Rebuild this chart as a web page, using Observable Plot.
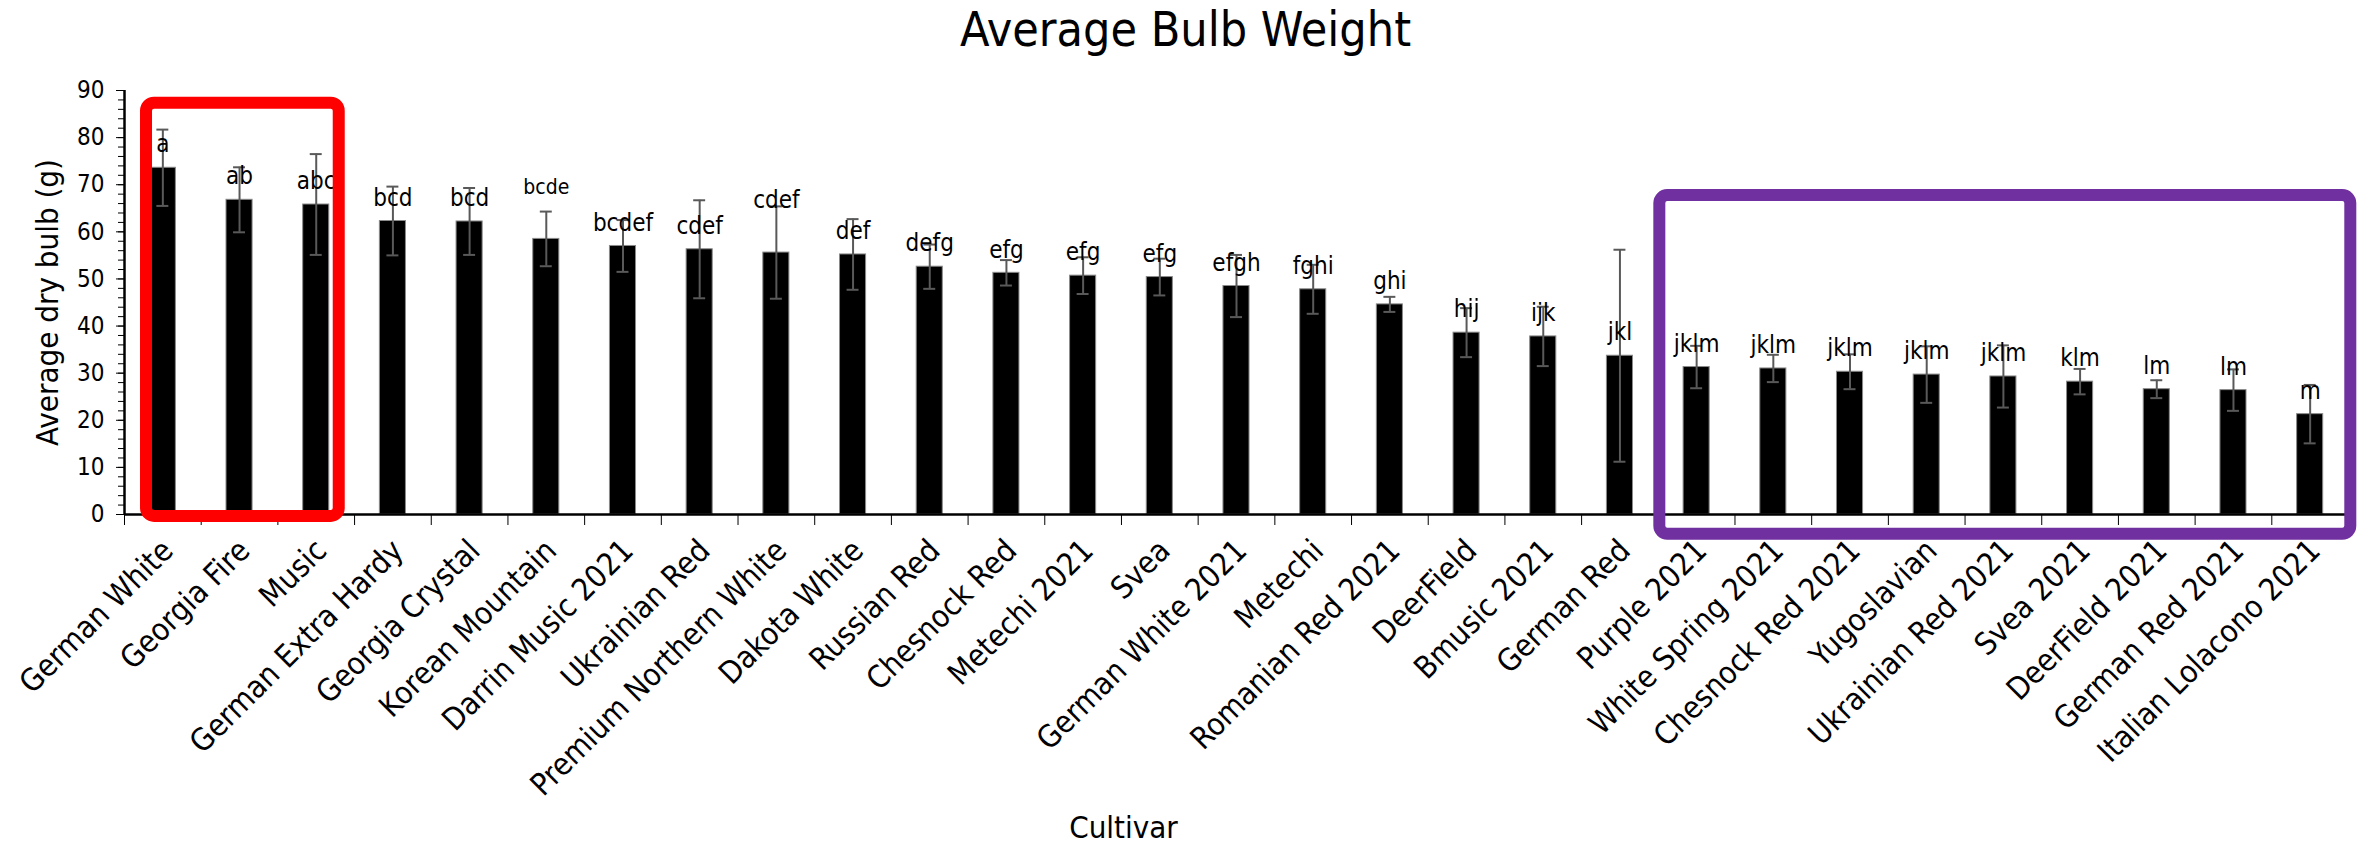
<!DOCTYPE html>
<html>
<head>
<meta charset="utf-8">
<script src="https://cdn.jsdelivr.net/npm/d3@7"></script>
<script src="https://cdn.jsdelivr.net/npm/@observablehq/plot@0.6"></script>
<style>
  html, body { margin: 0; padding: 0; background: #fff; }
  #chart svg { display: block; }
</style>
</head>
<body>
<div id="chart"></div>
<script>
// Cultivars, in ranked order of mean dry bulb weight
const cultivars = [
  "German White", "Georgia Fire", "Music", "German Extra Hardy", "Georgia Crystal",
  "Korean Mountain", "Darrin Music 2021", "Ukrainian Red", "Premium Northern White",
  "Dakota White", "Russian Red", "Chesnock Red", "Metechi 2021", "Svea",
  "German White 2021", "Metechi", "Romanian Red 2021", "DeerField", "Bmusic 2021",
  "German Red", "Purple 2021", "White Spring 2021", "Chesnock Red 2021", "Yugoslavian",
  "Ukrainian Red 2021", "Svea 2021", "DeerField 2021", "German Red 2021",
  "Italian Lolacono 2021"
];

// Average dry bulb weight (g)
const meanWeight = [
  73.6, 66.8, 65.8, 62.3, 62.2, 58.5, 57.0, 56.3, 55.6, 55.2,
  52.6, 51.3, 50.7, 50.4, 48.5, 47.8, 44.6, 38.6, 37.8, 33.7,
  31.3, 31.0, 30.3, 29.7, 29.3, 28.2, 26.6, 26.4, 21.3
];

// Error (± g)
const errorWeight = [
  8.1, 6.9, 10.7, 7.3, 7.1, 5.8, 5.5, 10.4, 9.8, 7.5,
  4.7, 2.7, 3.9, 3.9, 6.6, 5.2, 1.6, 5.2, 6.3, 22.5,
  4.5, 2.9, 3.7, 6.0, 6.6, 2.7, 1.9, 4.4, 6.2
];

// Mean-separation letters
const letters = [
  "a", "ab", "abc", "bcd", "bcd", "bcde", "bcdef", "cdef", "cdef", "def",
  "defg", "efg", "efg", "efg", "efgh", "fghi", "ghi", "hij", "ijk", "jkl",
  "jklm", "jklm", "jklm", "jklm", "jklm", "klm", "lm", "lm", "m"
];

// Highlight boxes: first and last cultivar of each group, and the box's vertical extent (g)
const groupFirst = ["German White", "Purple 2021"];
const groupLast = ["Music", "Italian Lolacono 2021"];
const groupTop = [87.3, 67.7];
const groupBottom = [-0.4, -4.2];
const groupColor = ["#ff0000", "#7030a0"];

const yTicks = [0, 10, 20, 30, 40, 50, 60, 70, 80, 90];

// ---- layout / styling ----
const W = 2362, H = 846;
const ML = 124, MR = 14, MT = 90, MB = 332;
const FONT = "'DejaVu Sans Condensed', 'DejaVu Sans', Verdana, sans-serif";
const BAR_HALF = 0.17;      // half bar width, in category units
const CAP_HALF = 0.078;     // half error-cap width, in category units
const raised = new Set(["Korean Mountain", "Premium Northern White"]);
const smallLetter = { "Korean Mountain": 21 };

const rows = cultivars.map((c, i) => ({
  c, i, mid: i + 0.5,
  mean: meanWeight[i], err: errorWeight[i], letter: letters[i]
}));

const groups = groupFirst.map((f, k) => ({
  x1: cultivars.indexOf(f) + (k === 0 ? 0.287 : 0.02),
  x2: cultivars.indexOf(groupLast[k]) + (k === 0 ? 0.8 : 1.03),
  y1: groupBottom[k], y2: groupTop[k], color: groupColor[k]
}));

const n = cultivars.length;
const letterSize = d => smallLetter[d.c] || 24;

const plot = Plot.plot({
  width: W, height: H,
  marginLeft: ML, marginRight: MR, marginTop: MT, marginBottom: MB,
  style: { fontFamily: FONT, color: "#000", background: "#fff", overflow: "visible" },
  x: { type: "linear", domain: [0, n], axis: null },
  y: { domain: [0, 90], axis: null },
  marks: [
    // bars
    Plot.rectY(rows, {
      x1: d => d.mid - BAR_HALF, x2: d => d.mid + BAR_HALF, y1: 0, y2: "mean",
      fill: "#000", stroke: "#8a8a8a", strokeWidth: 1
    }),
    // error bars
    Plot.ruleX(rows, { x: "mid", y1: d => d.mean - d.err, y2: d => d.mean + d.err, stroke: "#595959", strokeWidth: 2 }),
    Plot.ruleY(rows, { y: d => d.mean + d.err, x1: d => d.mid - CAP_HALF, x2: d => d.mid + CAP_HALF, stroke: "#595959", strokeWidth: 2 }),
    Plot.ruleY(rows, { y: d => d.mean - d.err, x1: d => d.mid - CAP_HALF, x2: d => d.mid + CAP_HALF, stroke: "#595959", strokeWidth: 2 }),
    // letters above the bars
    Plot.text(rows.filter(d => !raised.has(d.c)), {
      x: "mid", y: "mean", text: "letter", dy: -23, fontSize: letterSize, fill: "#000"
    }),
    Plot.text(rows.filter(d => raised.has(d.c)), {
      x: "mid", y: "mean", text: "letter", dy: -52, fontSize: letterSize, fill: "#000"
    }),
    // y axis: minor and major ticks
    Plot.axisY({ ticks: d3.range(0, 91, 2), tickSize: 6, tickFormat: () => "", label: null }),
    Plot.axisY({ ticks: yTicks, tickSize: 8, tickPadding: 12, fontSize: 24, label: null }),
    // x axis: ticks at category boundaries, labels at centres
    Plot.axisX({ ticks: d3.range(0, n + 1), tickSize: 11, tickFormat: () => "", label: null }),
    Plot.axisX({
      ticks: rows.map(d => d.mid), tickFormat: t => cultivars[Math.floor(t)],
      tickSize: 0, tickPadding: 31, dx: 5, tickRotate: -45, fontSize: 31, label: null
    }),
    // axis lines
    Plot.ruleX([0], { y1: 0, y2: 90, stroke: "#000", strokeWidth: 2.5 }),
    Plot.ruleY([0], { stroke: "#000", strokeWidth: 2.5 }),
    // titles
    Plot.text(["Average dry bulb (g)"], {
      frameAnchor: "left", textAnchor: "middle", lineAnchor: "middle",
      dx: -76, rotate: -90, fontSize: 31, fill: "#000"
    }),
    Plot.text(["Cultivar"], {
      frameAnchor: "bottom", lineAnchor: "middle", dx: -113, dy: 314, fontSize: 31, fill: "#000"
    }),
    Plot.text(["Average Bulb Weight"], {
      frameAnchor: "top", lineAnchor: "middle", dx: -51, dy: -60, fontSize: 48, fill: "#000"
    }),
    // highlight boxes
    Plot.rect(groups, {
      x1: "x1", x2: "x2", y1: "y1", y2: "y2",
      fill: "none", stroke: "color", strokeWidth: 12, rx: 8
    })
  ]
});

document.getElementById("chart").appendChild(plot);
</script>
</body>
</html>
